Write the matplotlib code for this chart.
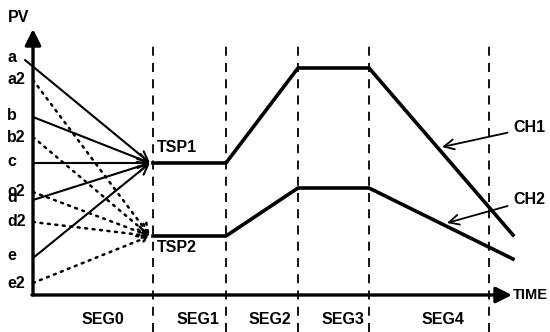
import numpy as np
import matplotlib.pyplot as plt

plt.rcParams['font.family'] = ['Liberation Sans', 'DejaVu Sans']
plt.rcParams['font.weight'] = 'bold'
FS = 11.5

# segment boundaries on the time axis
seg_bounds = [120, 193, 265, 336, 456]
seg_names = ["SEG0", "SEG1", "SEG2", "SEG3", "SEG4"]
seg_label_x = [70, 165, 237, 310, 410]

# channel profiles (time, pv)
ch_time = [120, 193, 265, 336, 480]
ch1_pv = [132, 132, 227, 227, 60]
ch2_pv = [59, 59, 107, 107, 36]

# starting values for CH1 (solid) and CH2 (dotted)
start1_names = ["a", "b", "c", "d", "e"]
start1_pv = [235, 178, 132, 95, 37]
start1_t = [-8, 0, 0, 0, 0]
start2_names = ["a2", "b2", "c2", "d2", "e2"]
start2_pv = [215, 158, 103, 73, 12]
tsp1 = (117, 132)
tsp2 = (117, 59)

fig = plt.figure(figsize=(5.5, 3.32), dpi=100)
ax = fig.add_axes([0, 0, 1, 1])
ax.set_xlim(-33, 517)
ax.set_ylim(-37, 295)
ax.axis('off')

# axes with arrows
ax.annotate("", xy=(0, 266), xytext=(0, 0),
            arrowprops=dict(arrowstyle='-|>', lw=2.4, color='black', mutation_scale=24, shrinkA=0, shrinkB=0))
ax.annotate("", xy=(479, 0), xytext=(-1, 0),
            arrowprops=dict(arrowstyle='-|>', lw=2.4, color='black', mutation_scale=24, shrinkA=0, shrinkB=0))
ax.text(-25, 277, "PV", fontsize=FS, va='center', ha='left')
ax.text(480, 0, "TIME", fontsize=10.5, va='center', ha='left')

# dashed segment boundaries
for b in seg_bounds:
    ax.plot([b, b], [-37, 250], color='black', lw=1.3, dashes=(5, 4))
for name, x in zip(seg_names, seg_label_x):
    ax.text(x, -25, name, fontsize=FS, va='center', ha='center')

# channel lines
ax.plot(ch_time, ch1_pv, color='black', lw=2.6, solid_joinstyle='miter')
ax.plot(ch_time, ch2_pv, color='black', lw=2.6, solid_joinstyle='miter')

# starting lines
for name, t, pv in zip(start1_names, start1_t, start1_pv):
    ax.annotate("", xy=tsp1, xytext=(t, pv),
                arrowprops=dict(arrowstyle='->', lw=1.5, color='black', mutation_scale=18, shrinkA=0, shrinkB=0))
    ax.text(-26, pv + 2, name, fontsize=FS, va='center', ha='left')
for name, pv in zip(start2_names, start2_pv):
    ax.annotate("", xy=tsp2, xytext=(0, pv),
                arrowprops=dict(arrowstyle='->', lw=1.8, ls=(0, (0.8, 2.2)), color='black',
                                mutation_scale=18, shrinkA=0, shrinkB=0))
    ax.text(-26, pv, name, fontsize=FS, va='center', ha='left')

ax.text(124, 147, "TSP1", fontsize=FS, va='center', ha='left')
ax.text(124, 47, "TSP2", fontsize=FS, va='center', ha='left')

# channel labels
ax.annotate("CH1", xy=(409, 148), xytext=(480, 167), fontsize=FS, va='center', ha='left',
            arrowprops=dict(arrowstyle='->', lw=1.3, color='black', mutation_scale=18, shrinkA=2, shrinkB=0))
ax.annotate("CH2", xy=(414, 72), xytext=(480, 95), fontsize=FS, va='center', ha='left',
            arrowprops=dict(arrowstyle='->', lw=1.3, color='black', mutation_scale=18, shrinkA=2, shrinkB=0))

fig.savefig("out.png", dpi=100)
